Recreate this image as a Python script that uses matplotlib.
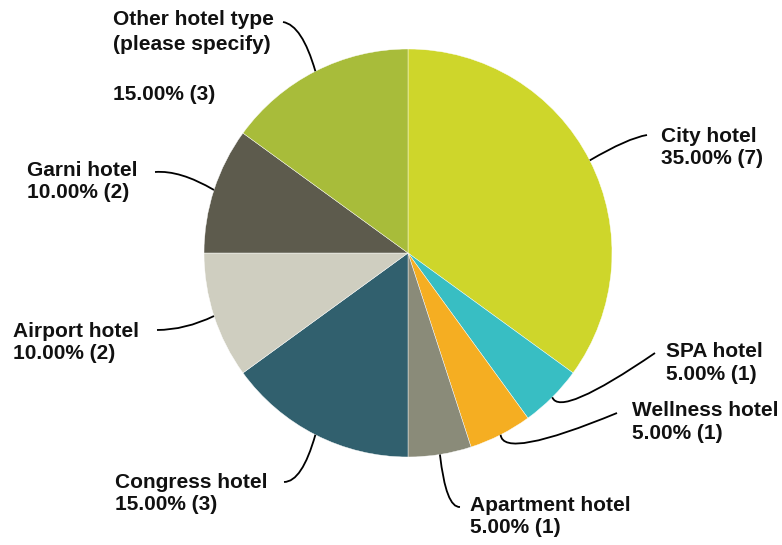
import matplotlib.pyplot as plt
import numpy as np
from matplotlib.path import Path
from matplotlib.patches import PathPatch

plt.rcParams["font.family"] = ["Liberation Sans", "DejaVu Sans"]

# data
labels = [
    "City hotel",
    "SPA hotel",
    "Wellness hotel",
    "Apartment hotel",
    "Congress hotel",
    "Airport hotel",
    "Garni hotel",
    "Other hotel type\n(please specify)\n",
]
counts = [7, 1, 1, 1, 3, 2, 2, 3]
colors = [
    "#CED62B",
    "#38BEC3",
    "#F5AE22",
    "#8A8B79",
    "#31606E",
    "#CFCEC0",
    "#5D5B4D",
    "#A8BC3A",
]

# layout in pixel coords (y down): text pos, leader control point, leader end
text_pos = [(661, 127), (666, 342), (632, 401), (470, 496),
            (115, 473), (13, 322), (27, 161), (113, 10)]
line_sp = [1.22, 1.28, 1.28, 1.22, 1.22, 1.22, 1.22, 1.4]
ctrl_pos = [(628, 138), (560, 418), (503, 460), (446, 508),
            (302, 482), (185, 330), (180, 170), (302, 25)]
end_pos = [(647, 135), (655, 353), (617, 413), (460, 507),
           (284, 482), (157, 330), (155, 172), (283, 22)]

W, H = 782, 545
cx, cy, R = 408, 253, 204

fig = plt.figure(figsize=(W / 100, H / 100), dpi=100)
ax = fig.add_axes([0, 0, 1, 1])
ax.pie(
    counts,
    colors=colors,
    startangle=-90,
    counterclock=True,
    center=(cx, cy),
    radius=R,
    wedgeprops=dict(edgecolor="white", linewidth=0.3),
)
ax.set_xlim(0, W)
ax.set_ylim(H, 0)
ax.set_aspect("auto")
ax.axis("off")

total = sum(counts)
cum = 0
for i, c in enumerate(counts):
    theta = np.deg2rad(-90 + (cum + c / 2) / total * 360)
    cum += c
    start = (cx + R * np.cos(theta), cy + R * np.sin(theta))
    path = Path([start, ctrl_pos[i], end_pos[i]],
                [Path.MOVETO, Path.CURVE3, Path.CURVE3])
    ax.add_patch(PathPatch(path, fill=False, edgecolor="black", linewidth=1.3))
    pct = c / total * 100
    txt = f"{labels[i]}\n{pct:.2f}% ({c})"
    ax.text(text_pos[i][0], text_pos[i][1], txt, ha="left", va="top",
            fontsize=15, fontweight="bold", color="#111111",
            linespacing=line_sp[i])

fig.savefig("out.png", dpi=100)
